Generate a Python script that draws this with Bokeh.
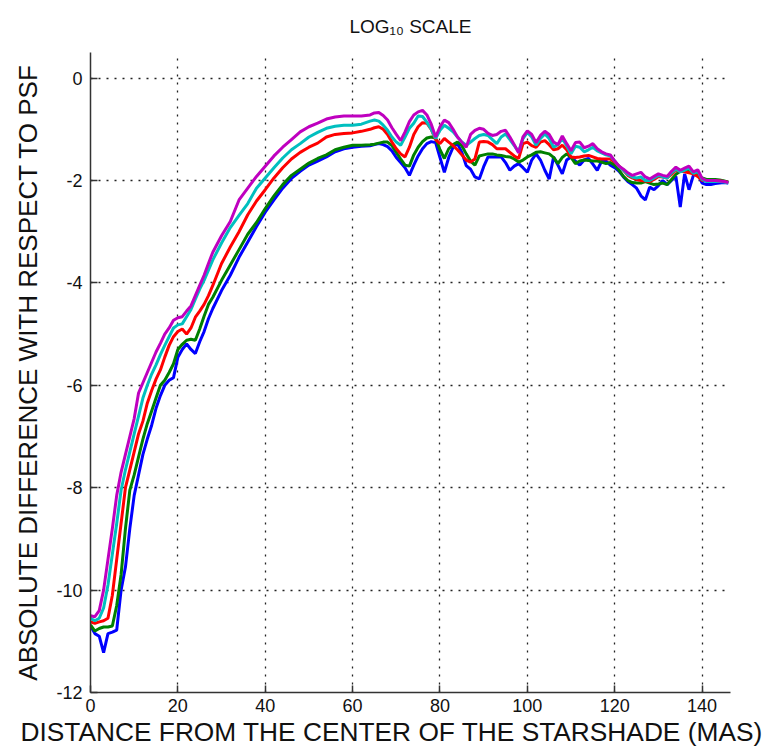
from bokeh.plotting import figure
from bokeh.models import Range1d, FixedTicker, Title, ColumnDataSource
from bokeh.embed import file_html
from bokeh.resources import INLINE

# distance from the centre of the starshade (mas)
distance = [0, 1, 2, 3, 4, 5, 6, 7, 8, 9, 10, 11, 12, 13, 14, 15, 16, 17, 18, 19,
            20, 21, 22, 23, 24, 25, 26, 27, 28, 30, 32, 34, 36, 38, 40, 42, 44, 46,
            48, 50, 52, 54, 56, 58, 60, 62, 64, 65, 66, 67, 68, 69, 70, 71, 72, 73,
            74, 75, 76, 77, 78, 79, 80, 81, 82, 83, 84, 85, 86, 87, 88, 89, 90, 91,
            92, 93, 94, 95, 96, 97, 98, 99, 100, 101, 102, 103, 104, 105, 106, 107,
            108, 109, 110, 111, 112, 113, 114, 115, 116, 117, 118, 119, 120, 121,
            122, 123, 124, 125, 126, 127, 128, 129, 130, 131, 132, 133, 134, 135,
            136, 137, 138, 139, 140, 141, 142, 143, 144, 145, 146]

series_magenta = [-10.50, -10.52, -10.40, -10.00, -9.40, -8.80, -8.15, -7.70, -7.35, -7.00,
                  -6.65, -6.15, -5.95, -5.75, -5.55, -5.35, -5.18, -5.00, -4.88, -4.73,
                  -4.68, -4.66, -4.55, -4.45, -4.25, -4.05, -3.85, -3.62, -3.40, -3.08,
                  -2.80, -2.38, -2.15, -1.92, -1.72, -1.52, -1.35, -1.20, -1.05, -0.95,
                  -0.88, -0.80, -0.76, -0.74, -0.74, -0.74, -0.72, -0.68, -0.67, -0.73,
                  -0.82, -0.97, -1.10, -1.22, -1.05, -0.85, -0.72, -0.66, -0.63, -0.72,
                  -0.90, -1.15, -0.95, -0.82, -0.87, -1.00, -1.15, -1.25, -1.35, -1.10,
                  -1.02, -0.98, -1.00, -1.08, -1.12, -1.10, -1.04, -1.02, -1.15, -1.30,
                  -1.46, -1.15, -1.03, -1.10, -1.26, -1.12, -1.04, -1.10, -1.25, -1.30,
                  -1.13, -1.28, -1.42, -1.26, -1.25, -1.36, -1.33, -1.28, -1.38, -1.44,
                  -1.48, -1.50, -1.62, -1.72, -1.78, -1.85, -1.90, -1.87, -1.84, -1.93,
                  -1.97, -1.92, -1.87, -1.90, -1.92, -1.82, -1.74, -1.80, -1.76, -1.72,
                  -1.83, -1.79, -1.96, -2.00, -2.00, -2.00, -2.01, -2.02, -2.04]

series_cyan = [-10.55, -10.60, -10.55, -10.35, -9.90, -9.30, -8.70, -8.05, -7.65, -7.30,
               -6.95, -6.60, -6.25, -6.00, -5.78, -5.60, -5.40, -5.22, -5.05, -4.88,
               -4.82, -4.80, -4.66, -4.52, -4.32, -4.12, -3.95, -3.75, -3.55, -3.22,
               -2.92, -2.68, -2.45, -2.15, -1.95, -1.75, -1.56, -1.40, -1.28, -1.15,
               -1.06, -0.98, -0.94, -0.92, -0.92, -0.90, -0.84, -0.82, -0.84, -0.92,
               -1.02, -1.15, -1.25, -1.31, -1.15, -0.98, -0.88, -0.74, -0.75, -0.86,
               -1.00, -1.18, -1.02, -0.92, -0.98, -1.05, -1.15, -1.25, -1.31, -1.25,
               -1.18, -1.12, -1.10, -1.12, -1.20, -1.28, -1.15, -1.09, -1.20, -1.32,
               -1.44, -1.18, -1.06, -1.15, -1.31, -1.18, -1.09, -1.18, -1.35, -1.30,
               -1.18, -1.32, -1.48, -1.33, -1.35, -1.44, -1.40, -1.35, -1.42, -1.46,
               -1.50, -1.52, -1.62, -1.73, -1.80, -1.88, -1.93, -1.95, -1.93, -2.00,
               -2.00, -1.95, -1.90, -1.93, -1.95, -1.85, -1.78, -1.83, -1.80, -1.76,
               -1.86, -1.82, -1.98, -2.02, -2.02, -2.02, -2.02, -2.03, -2.05]

series_red = [-10.62, -10.65, -10.62, -10.60, -10.55, -10.10, -9.40, -8.70, -8.00, -7.65,
              -7.30, -6.95, -6.70, -6.35, -6.10, -5.88, -5.70, -5.45, -5.22, -5.05,
              -4.95, -4.90, -5.00, -4.88, -4.67, -4.55, -4.42, -4.25, -4.05, -3.62,
              -3.30, -3.00, -2.67, -2.40, -2.18, -1.95, -1.75, -1.58, -1.45, -1.35,
              -1.27, -1.15, -1.10, -1.08, -1.07, -1.04, -1.00, -0.97, -0.95, -1.00,
              -1.10, -1.25, -1.38, -1.48, -1.54, -1.35, -1.10, -0.95, -0.87, -0.88,
              -1.00, -1.20, -1.28, -1.18, -1.25, -1.32, -1.40, -1.50, -1.60, -1.64,
              -1.58, -1.25, -1.24, -1.25, -1.30, -1.38, -1.38, -1.38, -1.45, -1.52,
              -1.57, -1.28, -1.25, -1.32, -1.35, -1.25, -1.22, -1.30, -1.40, -1.38,
              -1.31, -1.40, -1.54, -1.55, -1.54, -1.52, -1.51, -1.54, -1.57, -1.58,
              -1.58, -1.58, -1.64, -1.72, -1.80, -1.90, -1.95, -1.98, -2.00, -2.01,
              -2.02, -1.98, -1.92, -1.93, -1.95, -1.88, -1.80, -1.82, -1.83, -1.85,
              -1.87, -1.92, -2.00, -2.00, -2.00, -2.01, -2.01, -2.02, -2.04]

series_green = [-10.68, -10.80, -10.75, -10.72, -10.72, -10.70, -10.30, -9.70, -8.80, -8.05,
                -7.75, -7.40, -7.05, -6.75, -6.50, -6.25, -6.00, -5.90, -5.75, -5.58,
                -5.30, -5.20, -5.12, -5.10, -5.12, -4.90, -4.65, -4.42, -4.28, -3.95,
                -3.65, -3.35, -3.05, -2.82, -2.55, -2.30, -2.08, -1.90, -1.78, -1.66,
                -1.57, -1.50, -1.40, -1.35, -1.31, -1.31, -1.30, -1.29, -1.27, -1.25,
                -1.25, -1.32, -1.45, -1.58, -1.70, -1.72, -1.50, -1.35, -1.24, -1.17,
                -1.15, -1.17, -1.40, -1.57, -1.38, -1.30, -1.25, -1.32, -1.48, -1.62,
                -1.70, -1.52, -1.50, -1.48, -1.48, -1.50, -1.51, -1.53, -1.54, -1.58,
                -1.64, -1.60, -1.54, -1.50, -1.45, -1.44, -1.46, -1.48, -1.55, -1.67,
                -1.55, -1.48, -1.55, -1.67, -1.62, -1.60, -1.61, -1.62, -1.62, -1.64,
                -1.67, -1.65, -1.70, -1.80, -1.92, -2.00, -2.04, -2.05, -2.05, -2.02,
                -2.05, -2.08, -2.07, -2.05, -2.08, -1.98, -1.88, -1.82, -1.80, -1.82,
                -1.83, -1.90, -1.95, -1.98, -1.98, -1.98, -1.99, -2.01, -2.03]

series_blue = [-10.70, -10.85, -10.90, -11.22, -10.85, -10.82, -10.78, -10.00, -9.55, -8.80,
               -8.15, -7.75, -7.35, -7.05, -6.78, -6.45, -6.20, -6.00, -5.90, -5.85,
               -5.45, -5.30, -5.19, -5.30, -5.38, -5.15, -4.95, -4.70, -4.50, -4.15,
               -3.85, -3.50, -3.20, -2.90, -2.62, -2.38, -2.15, -1.96, -1.82, -1.70,
               -1.62, -1.54, -1.44, -1.38, -1.35, -1.33, -1.32, -1.30, -1.28, -1.30,
               -1.34, -1.42, -1.55, -1.65, -1.75, -1.90, -1.70, -1.52, -1.38, -1.28,
               -1.24, -1.26, -1.55, -1.84, -1.55, -1.35, -1.28, -1.45, -1.71, -1.78,
               -1.93, -1.97, -1.73, -1.54, -1.54, -1.54, -1.54, -1.65, -1.80, -1.72,
               -1.67, -1.75, -1.84, -1.60, -1.48, -1.60, -1.80, -1.97, -1.54, -1.70,
               -1.87, -1.60, -1.54, -1.62, -1.70, -1.60, -1.57, -1.68, -1.80, -1.62,
               -1.62, -1.70, -1.75, -1.82, -1.93, -2.02, -2.08, -2.15, -2.30, -2.38,
               -2.13, -2.18, -2.10, -2.00, -2.08, -2.00, -1.92, -2.52, -1.87, -2.18,
               -1.90, -1.87, -2.05, -2.08, -2.08, -2.06, -2.05, -2.04, -2.05]

x_ticks = [0, 20, 40, 60, 80, 100, 120, 140]
x_tick_labels = ["0", "20", "40", "60", "80", "100", "120", "140"]
y_ticks = [-12, -10, -8, -6, -4, -2, 0]
y_tick_labels = ["-12", "-10", "-8", "-6", "-4", "-2", "0"]

title_text = "LOG\u2081\u2080 SCALE"
x_label = "DISTANCE FROM THE CENTER OF THE STARSHADE (MAS)"
y_label = "ABSOLUTE DIFFERENCE WITH RESPECT TO PSF"

source = ColumnDataSource(dict(x=distance, m=series_magenta, c=series_cyan,
                               r=series_red, g=series_green, b=series_blue))

FONT = "Liberation Sans"

p = figure(width=772, height=746, output_backend="svg", toolbar_location=None,
           x_range=Range1d(0, 146.5), y_range=Range1d(-12, 0.5),
           min_border_left=90, min_border_right=42, min_border_top=52,
           min_border_bottom=54)
p.background_fill_color = "white"
p.border_fill_color = "white"
p.outline_line_color = None

p.title.text = title_text
p.title.align = "center"
p.title.vertical_align = "top"
p.title.text_font = FONT
p.title.text_font_size = "19px"
p.title.text_font_style = "normal"
p.title.text_color = "#111111"
p.title.standoff = 28

p.add_layout(Title(text=x_label, align="left", offset=-70, text_font=FONT,
                   text_font_size="26.3px", text_font_style="normal",
                   text_color="#111111", standoff=0), "below")

for ax in (p.xaxis[0], p.yaxis[0]):
    ax.axis_line_color = "#333333"
    ax.axis_line_width = 1.5
    ax.major_tick_line_color = "#333333"
    ax.major_tick_line_width = 1.5
    ax.major_tick_in = 7
    ax.major_tick_out = 0
    ax.minor_tick_line_color = None
    ax.major_label_text_font = FONT
    ax.major_label_text_font_size = "18px"
    ax.major_label_text_color = "#111111"
    ax.major_label_standoff = 8

p.xaxis.ticker = FixedTicker(ticks=x_ticks)
p.yaxis.ticker = FixedTicker(ticks=y_ticks)
p.xaxis.major_label_overrides = {t: s for t, s in zip(x_ticks, x_tick_labels)}
p.yaxis.major_label_overrides = {t: s for t, s in zip(y_ticks, y_tick_labels)}
p.xaxis.major_label_standoff = 6

p.yaxis.axis_label = y_label
p.yaxis.axis_label_text_font = FONT
p.yaxis.axis_label_text_font_size = "26px"
p.yaxis.axis_label_text_font_style = "normal"
p.yaxis.axis_label_text_color = "#111111"
p.yaxis.axis_label_standoff = 10

for g in (p.xgrid[0], p.ygrid[0]):
    g.grid_line_color = "#222222"
    g.grid_line_width = 1.3
    g.grid_line_dash = "2 6"

colors = [("b", "#0000FF"), ("g", "#008000"), ("r", "#FF0000"),
          ("c", "#00BFBF"), ("m", "#BF00BF")]
for key, col in colors:
    p.line("x", key, source=source, line_color=col, line_width=3)

open("out.html", "w").write(file_html(p, INLINE))
